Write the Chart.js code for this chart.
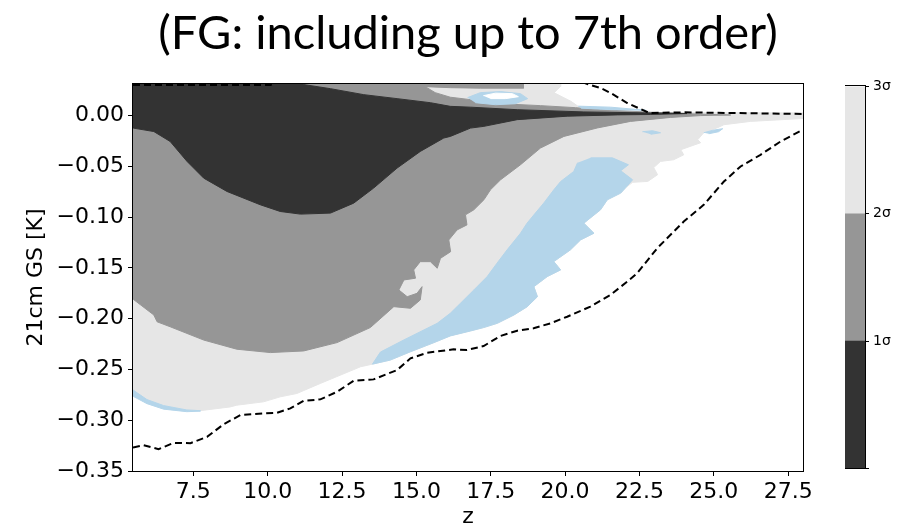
<!DOCTYPE html>
<html>
<head>
<meta charset="utf-8">
<script src="https://cdn.jsdelivr.net/npm/chart.js@4.4.1/dist/chart.umd.min.js"></script>
<style>
  html, body { margin: 0; padding: 0; background: #ffffff; }
  #wrap { position: relative; width: 902px; height: 528px; }
  #main { position: absolute; left: 0; top: 0; }
  #cbar { position: absolute; left: 845px; top: 74px; }
</style>
</head>
<body>
<div id="wrap">
  <canvas id="main" width="902" height="528"></canvas>
  <canvas id="cbar" width="60" height="407"></canvas>
</div>
<script>
// Axis ranges and tick labels
const zRange = [5.47, 28];
const tRange = [-0.35, 0.031];
const zTicks = [7.5, 10, 12.5, 15, 17.5, 20, 22.5, 25, 27.5];
const tTicks = [-0.35, -0.30, -0.25, -0.20, -0.15, -0.10, -0.05, 0.00];
const sigmaLevels = [0, 1, 2, 3];
const sigmaLabels = ['', '1\u03c3', '2\u03c3', '3\u03c3'];

// Contour regions, [z, T21 (K)] vertices
const region3Sigma = [
  [5.3,0.04],[19.85,0.04],[19.85,0.0286],[19.63,0.0224],[20.2,0.0139],[20.44,0.0090],[21.5,0.0060],
  [22.88,0.0030],[28.3,0.0025],[28.3,-0.0025],[26.24,-0.0058],[25.34,-0.0091],[25.13,-0.0120],
  [24.66,-0.0170],[24.46,-0.0239],[24.56,-0.0268],[23.89,-0.0337],[23.99,-0.0387],[23.65,-0.0436],
  [23.21,-0.0452],[22.98,-0.0513],[23.11,-0.0583],[22.78,-0.0649],[22.27,-0.0658],[22.04,-0.0710],
  [21.87,-0.0764],[21.42,-0.0830],[21.19,-0.0929],[20.63,-0.1060],[20.97,-0.1159],[20.52,-0.1225],
  [20.18,-0.1323],[19.62,-0.1438],[19.85,-0.1520],[19.40,-0.1586],[18.95,-0.1685],[19.07,-0.1784],
  [18.73,-0.1882],[18.28,-0.1964],[17.72,-0.2046],[17.26,-0.2088],[16.82,-0.2121],[16.14,-0.2170],
  [15.59,-0.2236],[14.80,-0.2326],[14.12,-0.2408],[13.52,-0.2448],[13.12,-0.2474],[11.77,-0.2638],
  [10.98,-0.2737],[10.42,-0.2770],[9.86,-0.2819],[8.96,-0.2852],[8.74,-0.2869],[7.73,-0.2906],
  [7.28,-0.2899],[6.50,-0.2856],[5.94,-0.2797],[5.49,-0.2706],[5.3,-0.2695]
];
const regionBlueBand = [
  [20.86,-0.0417],[21.59,-0.0417],[22.13,-0.0485],[21.87,-0.0544],[22.27,-0.0633],[22.04,-0.0710],
  [21.87,-0.0764],[21.42,-0.0830],[21.19,-0.0929],[20.63,-0.1060],[20.97,-0.1159],[20.52,-0.1225],
  [20.18,-0.1323],[19.62,-0.1438],[19.85,-0.1520],[19.40,-0.1586],[18.95,-0.1685],[19.07,-0.1784],
  [18.73,-0.1882],[18.28,-0.1964],[17.72,-0.2046],[17.26,-0.2088],[16.82,-0.2121],[16.14,-0.2170],
  [15.59,-0.2236],[14.80,-0.2326],[14.12,-0.2408],[13.52,-0.2448],
  [13.79,-0.2329],[14.57,-0.2211],[15.70,-0.2046],[16.14,-0.1947],[16.48,-0.1849],[16.93,-0.1718],
  [17.38,-0.1586],[17.71,-0.1454],[18.05,-0.1323],[18.50,-0.1159],[18.72,-0.1060],[19.00,-0.0961],
  [19.28,-0.0863],[19.62,-0.0732],[19.85,-0.0650],[20.29,-0.0551],[20.42,-0.0465]
];
const regionBlueEdge = [
  [5.3,-0.2695],[5.49,-0.2706],[5.94,-0.2797],[6.50,-0.2856],[7.28,-0.2899],[7.73,-0.2906],
  [7.73,-0.2911],[7.28,-0.2916],[6.50,-0.2891],[5.94,-0.2837],[5.49,-0.2767],[5.3,-0.2750]
];
const region2Sigma = [
  [5.3,0.04],[18.6,0.04],[18.6,0.0269],[17.15,0.0269],[16.14,0.0274],[15.3,0.0284],[15.63,0.0225],
  [16.14,0.0180],[16.82,0.0156],[17.83,0.0116],[19.17,0.0097],[20.35,0.0077],[21.19,0.0057],
  [22.88,0.0032],[24.56,0.0013],[25.57,0.0005],[24.56,-0.0001],[23.55,-0.0019],[22.2,-0.0058],
  [21.08,-0.0123],[19.96,-0.0206],[19.17,-0.0321],[18.50,-0.0485],[17.83,-0.0633],[17.49,-0.0732],
  [17.27,-0.0830],[16.93,-0.0929],[16.65,-0.0978],[16.70,-0.1077],[16.37,-0.1126],[16.09,-0.1225],
  [16.15,-0.1341],[15.81,-0.1406],[15.70,-0.1504],[15.47,-0.1439],[15.13,-0.1439],[14.91,-0.1520],
  [14.97,-0.1602],[14.58,-0.1619],[14.41,-0.1718],[14.69,-0.1784],[15.02,-0.1751],[15.19,-0.1685],
  [15.13,-0.1816],[14.80,-0.1898],[14.24,-0.1882],[13.45,-0.2088],[12.33,-0.2236],[11.21,-0.2318],
  [10.09,-0.2334],[8.96,-0.2301],[7.85,-0.2211],[6.72,-0.2080],[6.28,-0.2031],[6.17,-0.1964],
  [5.48,-0.1810],[5.3,-0.1790]
];
const region1Sigma = [
  [5.3,0.04],[11.1,0.04],[11.2,0.0305],[12.11,0.0264],[13.23,0.0205],[14.35,0.0166],[15.47,0.0126],
  [16.14,0.0090],[16.82,0.0082],[18.39,0.0057],[20.63,0.0035],[22.88,0.0025],[24.1,0.0019],
  [22.88,0.0010],[21.75,0.0006],[20.07,-0.0007],[18.39,-0.0041],[17.27,-0.0107],[16.82,-0.0124],
  [16.14,-0.0206],[15.92,-0.0222],[15.13,-0.0354],[14.35,-0.0518],[13.56,-0.0715],[12.89,-0.0863],
  [12.11,-0.0961],[11.10,-0.0971],[10.42,-0.0945],[9.75,-0.0879],[8.63,-0.0748],[7.85,-0.0617],
  [7.29,-0.0453],[6.72,-0.0256],[6.17,-0.0158],[5.48,-0.0124],[5.3,-0.0120]
];
const blueIsland = [
  [16.72,0.0176],[17.15,0.0225],[17.83,0.0235],[18.50,0.0215],[18.74,0.0166],[18.33,0.0116],
  [17.66,0.0106],[16.98,0.0126]
];
const blueIslandHole = [
  [17.25,0.0195],[17.66,0.0220],[18.23,0.0215],[18.43,0.0185],[17.99,0.0166],[17.49,0.0166]
];
const blueStreak = [
  [20.44,0.0092],[21.53,0.0082],[22.70,0.0052],[21.59,0.0057],[20.54,0.0072]
];
const blueSpeck1 = [[22.60,-0.0160],[22.94,-0.0150],[23.21,-0.0170],[22.88,-0.0185]];
const blueSpeck2 = [[24.66,-0.0170],[24.97,-0.0145],[25.30,-0.0130],[25.16,-0.0160],[24.83,-0.0180]];

// Dashed envelope curves
const upperBound = [
  [5.47,0.0300],[10.1,0.0300],[10.6,0.037],[20.2,0.037],[20.75,0.031],[21.2,0.027],[21.53,0.0222],
  [22.09,0.0123],[22.83,0.0025],[23.99,0.0031],[25.46,0.0025],[28.0,0.0015]
];
const lowerBound = [
  [5.47,-0.3269],[5.83,-0.3246],[6.33,-0.3285],[6.84,-0.3223],[7.40,-0.3226],[7.96,-0.3164],
  [8.52,-0.3039],[9.08,-0.2950],[9.86,-0.2933],[10.31,-0.2927],[10.76,-0.2884],[11.21,-0.2809],
  [11.77,-0.2795],[12.33,-0.2720],[12.89,-0.2612],[13.56,-0.2598],[14.35,-0.2506],[14.80,-0.2391],
  [15.36,-0.2336],[16.25,-0.2302],[16.70,-0.2309],[17.26,-0.2270],[17.82,-0.2171],[18.39,-0.2119],
  [18.94,-0.2095],[19.51,-0.2046],[20.07,-0.1981],[20.85,-0.1882],[21.52,-0.1767],[22.09,-0.1636],
  [22.42,-0.1553],[23.10,-0.1306],[23.99,-0.1044],[24.66,-0.0880],[25.34,-0.0650],[25.90,-0.0502],
  [26.57,-0.0387],[27.25,-0.0255],[28.0,-0.0140]
];

const C_DARK = '#333333', C_MID = '#969696', C_LIGHT = '#e6e6e6', C_BLUE = '#b4d5ea';

Chart.defaults.font.family = "'DejaVu Sans', sans-serif";
Chart.defaults.color = '#000';

const toPts = arr => arr.map(([x, y]) => ({x, y}));
function area(data, color, order) {
  return {
    data: toPts(data), showLine: true, fill: 'shape', backgroundColor: color,
    borderColor: color, borderWidth: 1, pointRadius: 0, tension: 0, order, clip: 0
  };
}
function dashed(data) {
  return {
    data: toPts(data), showLine: true, fill: false, borderColor: '#000', borderWidth: 2,
    borderDash: [7, 4], pointRadius: 0, tension: 0, order: 0
  };
}

// Black frame around the plotting area
const framePlugin = {
  id: 'frame',
  afterDatasetsDraw(chart) {
    const {ctx, chartArea: a} = chart;
    ctx.save();
    ctx.strokeStyle = '#000';
    ctx.lineWidth = 1;
    ctx.strokeRect(Math.round(a.left) - 0.5, Math.round(a.top) - 0.5,
                   Math.round(a.right - a.left) + 1, Math.round(a.bottom - a.top) + 1);
    ctx.restore();
  }
};

const fmtT = v => (v < 0 ? '\u2212' : '') + Math.abs(v).toFixed(2);
const fmtZ = v => v.toFixed(1);

new Chart(document.getElementById('main'), {
  type: 'scatter',
  data: {
    datasets: [
      area(region3Sigma, C_LIGHT, 10),
      area(regionBlueBand, C_BLUE, 9),
      area(regionBlueEdge, C_BLUE, 9),
      area(region2Sigma, C_MID, 8),
      area(blueIsland, C_BLUE, 7),
      area(blueIslandHole, '#ffffff', 6),
      area(blueStreak, C_BLUE, 7),
      area(blueSpeck1, C_BLUE, 7),
      area(blueSpeck2, C_BLUE, 7),
      area(region1Sigma, C_DARK, 5),
      dashed(upperBound),
      dashed(lowerBound)
    ]
  },
  options: {
    responsive: false,
    animation: false,
    devicePixelRatio: 1,
    layout: { padding: { left: 0, right: 99, top: 0, bottom: 0 } },
    plugins: {
      legend: { display: false },
      tooltip: { enabled: false },
      title: {
        display: true,
        text: '(FG: including up to 7th order)',
        fullSize: false,
        color: '#000',
        font: { family: "'Lato', sans-serif", size: 47, weight: 'normal', lineHeight: 1.2 },
        padding: { top: 6, bottom: 21.6 }
      }
    },
    scales: {
      x: {
        type: 'linear', min: zRange[0], max: zRange[1],
        afterBuildTicks: s => { s.ticks = zTicks.map(v => ({value: v})); },
        afterFit: s => { s.height = 57; },
        ticks: { callback: fmtZ, font: { size: 22 }, padding: 3, maxRotation: 0, autoSkip: false },
        grid: { display: true, drawOnChartArea: false, drawTicks: true, tickLength: 5, tickColor: '#000' },
        border: { display: false },
        title: { display: true, text: 'z', font: { size: 22, lineHeight: 1 }, padding: { top: 0, bottom: 0 } }
      },
      y: {
        type: 'linear', min: tRange[0], max: tRange[1],
        afterBuildTicks: s => { s.ticks = tTicks.map(v => ({value: v})); },
        afterFit: s => { s.width = 133; },
        ticks: { callback: fmtT, font: { size: 22 }, padding: 4, autoSkip: false },
        grid: { display: true, drawOnChartArea: false, drawTicks: true, tickLength: 5, tickColor: '#000' },
        border: { display: false },
        title: { display: true, text: '21cm GS [K]', font: { size: 22, lineHeight: 1 }, padding: { top: 25, bottom: 0 } }
      }
    }
  },
  plugins: [framePlugin]
});

// Colour bar for the confidence levels
new Chart(document.getElementById('cbar'), {
  type: 'bar',
  data: {
    labels: [''],
    datasets: [
      { data: [sigmaLevels[1] - sigmaLevels[0]], backgroundColor: C_DARK },
      { data: [sigmaLevels[2] - sigmaLevels[1]], backgroundColor: C_MID },
      { data: [sigmaLevels[3] - sigmaLevels[2]], backgroundColor: C_LIGHT }
    ]
  },
  options: {
    responsive: false,
    animation: false,
    devicePixelRatio: 1,
    layout: { padding: { left: 0, right: 0, top: 10, bottom: 10 } },
    datasets: { bar: { barPercentage: 1, categoryPercentage: 1, borderWidth: 0 } },
    plugins: { legend: { display: false }, tooltip: { enabled: false } },
    scales: {
      x: { stacked: true, display: false },
      y: {
        stacked: true, position: 'right', min: sigmaLevels[0], max: sigmaLevels[3],
        afterBuildTicks: s => { s.ticks = sigmaLevels.map(v => ({value: v})); },
        afterFit: s => { s.width = 40; },
        ticks: { callback: (v, i) => sigmaLabels[i], font: { size: 14 }, padding: 4, autoSkip: false },
        grid: { display: true, drawOnChartArea: false, drawTicks: true, tickLength: 4, tickColor: '#000' },
        border: { display: false }
      }
    }
  },
  plugins: [framePlugin]
});
</script>
</body>
</html>
